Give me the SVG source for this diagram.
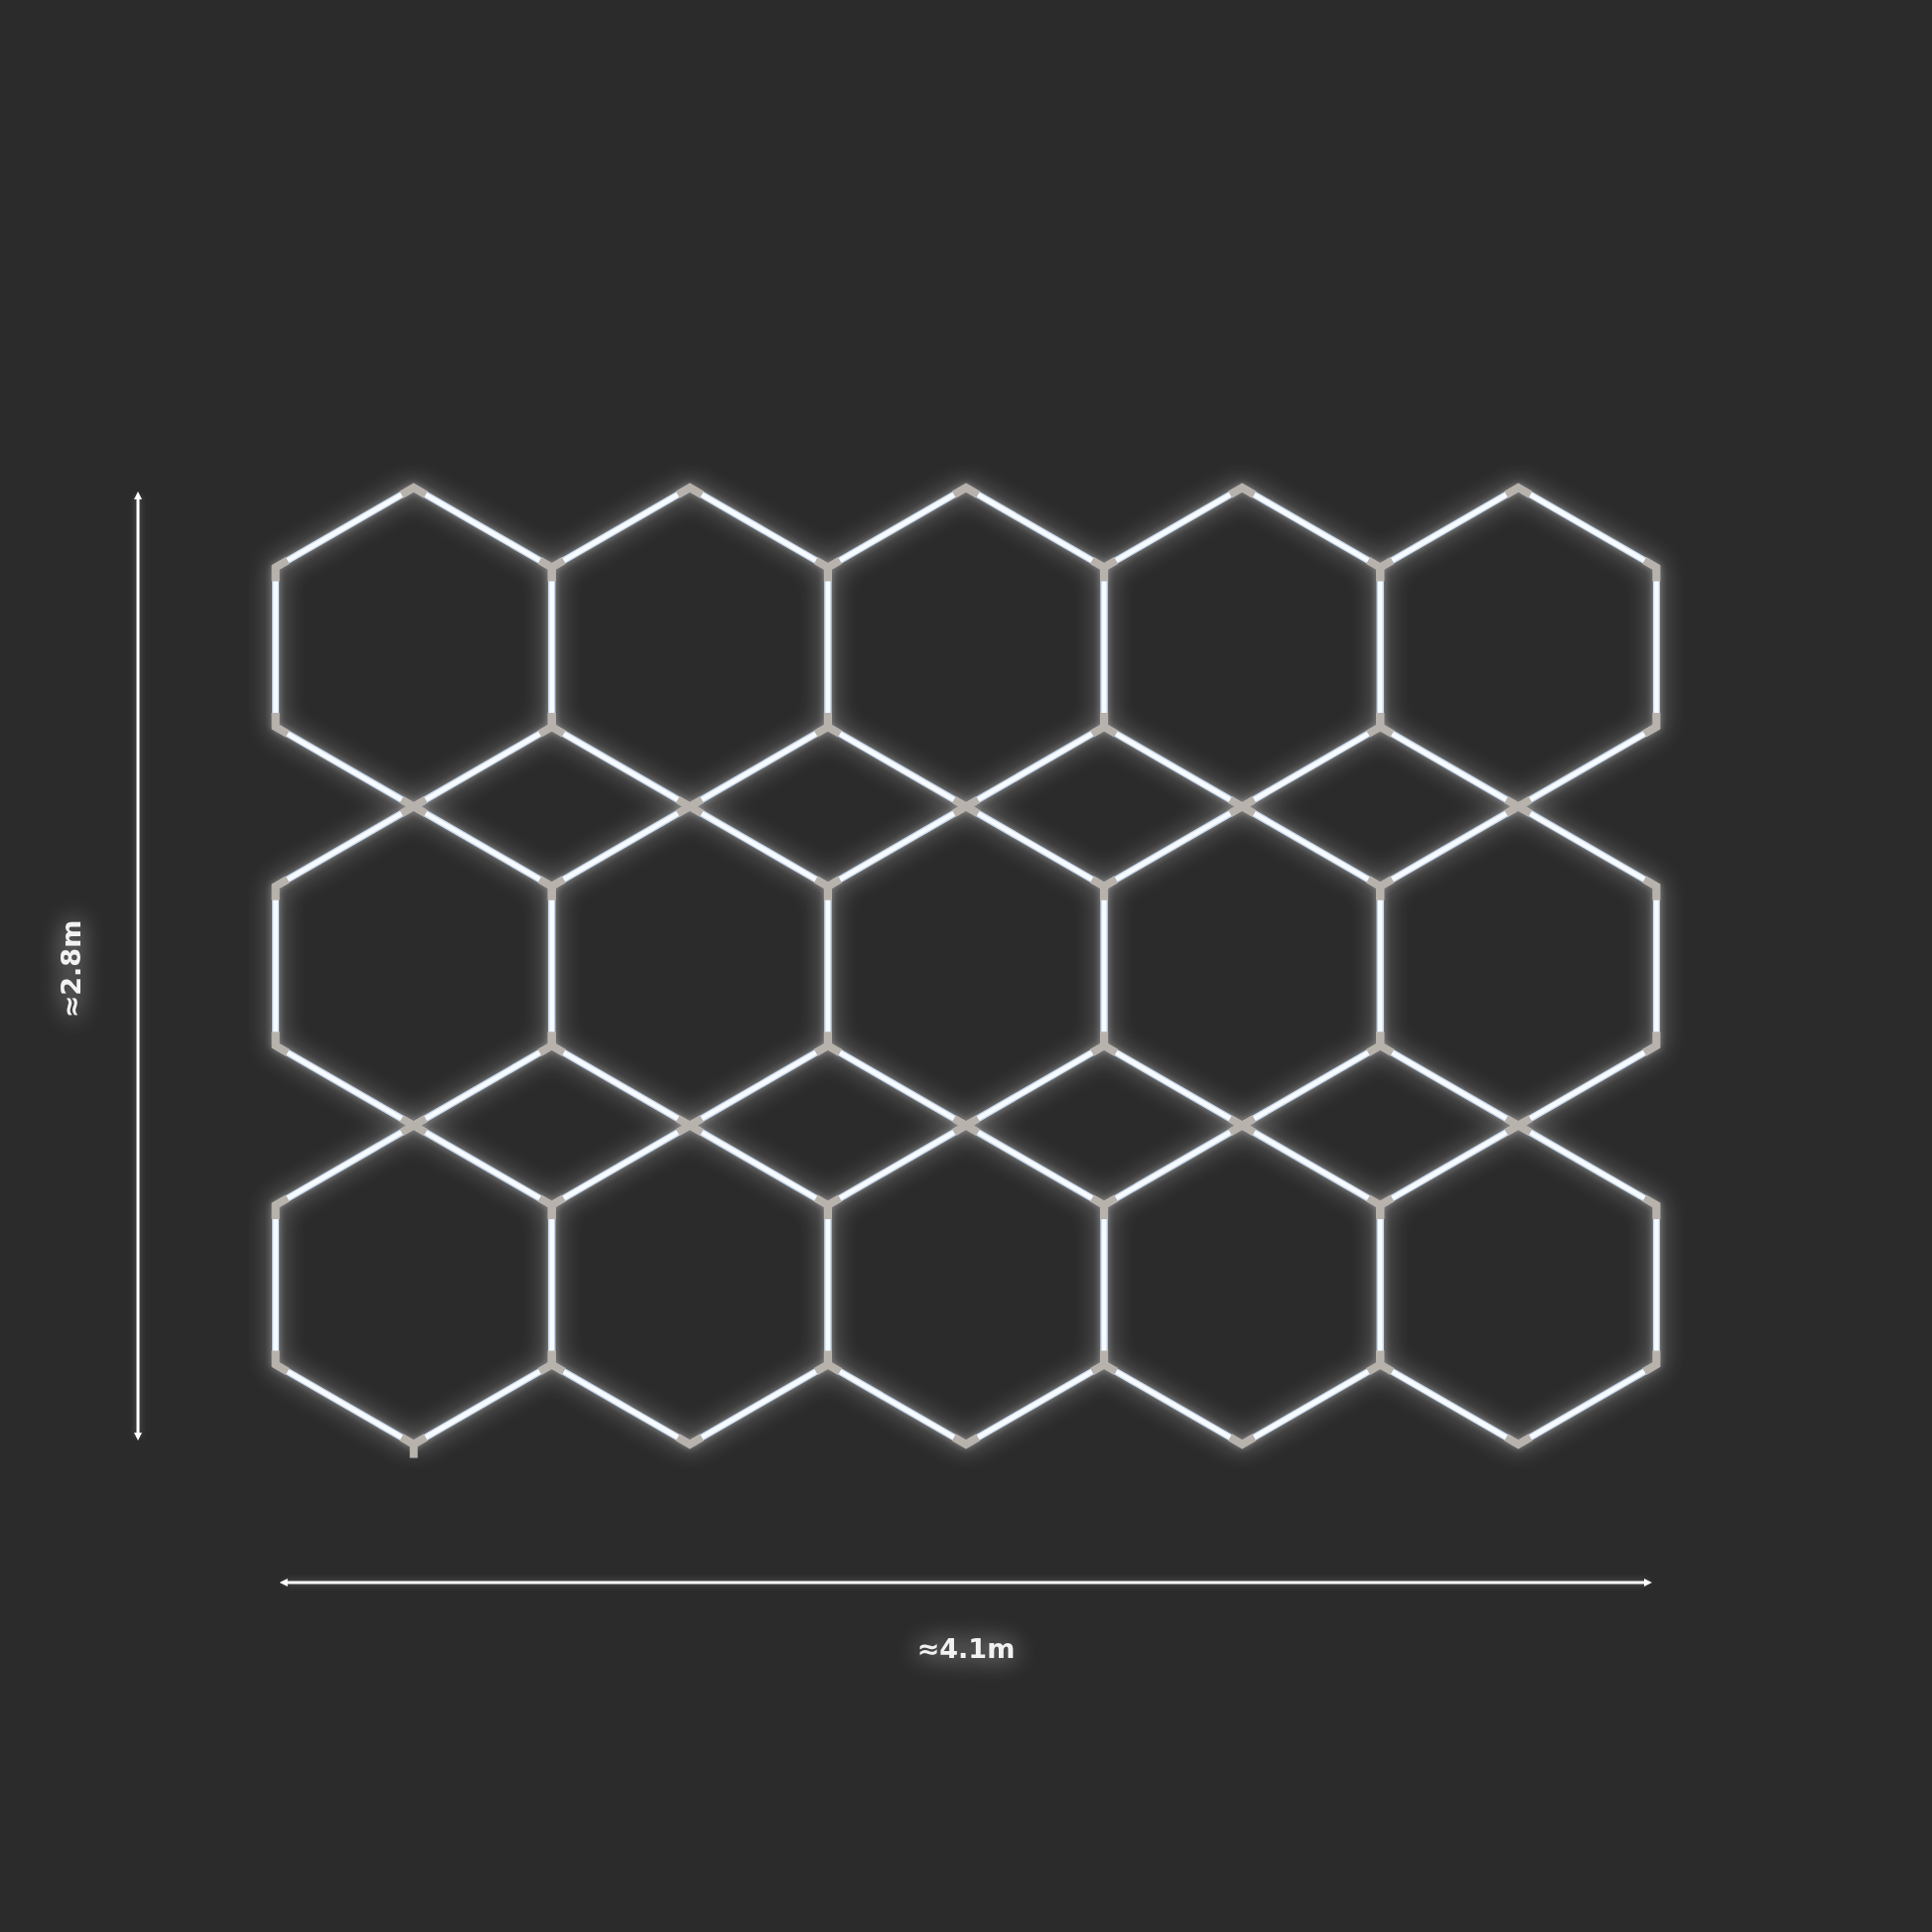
<svg xmlns="http://www.w3.org/2000/svg" xmlns:xlink="http://www.w3.org/1999/xlink" width="1946" height="1946" viewBox="0 0 1946 1946">
<style>
.tube-edge{fill:none;stroke:#c8dbf0;stroke-width:7;stroke-linejoin:miter}
.tube-core{fill:none;stroke:#f8fbff;stroke-width:4.5;stroke-linejoin:miter}
.conn{fill:none;stroke:#b8b2ad;stroke-width:8;stroke-linejoin:miter;stroke-miterlimit:4;stroke-linecap:butt}
.dim{stroke:#ffffff;stroke-width:3;fill:none}
.lbl{font-family:"DejaVu Sans","Liberation Sans",sans-serif;font-weight:bold;font-size:27px;fill:#f2f2f2;text-anchor:middle}
</style>
<defs>
<path id="hexshape" d="M0,-160.6 L139.085,-80.3 L139.085,80.3 L0,160.6 L-139.085,80.3 L-139.085,-80.3 Z"/>
<g id="hexunit">
<use href="#hexshape" class="tube-edge"/>
<use href="#hexshape" class="tube-core"/>
<path class="conn" d="M-12.12,-153.6 L0,-160.6 L12.12,-153.6 M126.965,-87.3 L139.085,-80.3 L139.085,-66.3 M139.085,66.3 L139.085,80.3 L126.965,87.3 M12.12,153.6 L0,160.6 L-12.12,153.6 M-126.965,87.3 L-139.085,80.3 L-139.085,66.3 M-139.085,-66.3 L-139.085,-80.3 L-126.965,-87.3"/>
</g>
<filter id="glow" x="0" y="0" width="1946" height="1946" filterUnits="userSpaceOnUse"><feGaussianBlur stdDeviation="12"/></filter>
<filter id="glowS" x="0" y="0" width="1946" height="1946" filterUnits="userSpaceOnUse"><feGaussianBlur stdDeviation="3.5"/></filter>
<marker id="arr" viewBox="0 0 10 10" refX="5" refY="5" markerWidth="8" markerHeight="8" markerUnits="userSpaceOnUse" orient="auto-start-reverse"><path d="M0,0 L10,5 L0,10 Z" fill="#ffffff"/></marker>
</defs>
<rect x="0" y="0" width="1946" height="1946" fill="#2b2b2b"/>

<g id="glow-layer" fill="none" stroke="#ffffff">
<g filter="url(#glow)" stroke-width="12" opacity="0.36">
<use href="#hexshape" x="416.66" y="651.8"/><use href="#hexshape" x="694.83" y="651.8"/><use href="#hexshape" x="973" y="651.8"/><use href="#hexshape" x="1251.17" y="651.8"/><use href="#hexshape" x="1529.34" y="651.8"/>
<use href="#hexshape" x="416.66" y="973"/><use href="#hexshape" x="694.83" y="973"/><use href="#hexshape" x="973" y="973"/><use href="#hexshape" x="1251.17" y="973"/><use href="#hexshape" x="1529.34" y="973"/>
<use href="#hexshape" x="416.66" y="1294.2"/><use href="#hexshape" x="694.83" y="1294.2"/><use href="#hexshape" x="973" y="1294.2"/><use href="#hexshape" x="1251.17" y="1294.2"/><use href="#hexshape" x="1529.34" y="1294.2"/>
</g>
<g filter="url(#glowS)" stroke-width="8" opacity="0.35">
<use href="#hexshape" x="416.66" y="651.8"/><use href="#hexshape" x="694.83" y="651.8"/><use href="#hexshape" x="973" y="651.8"/><use href="#hexshape" x="1251.17" y="651.8"/><use href="#hexshape" x="1529.34" y="651.8"/>
<use href="#hexshape" x="416.66" y="973"/><use href="#hexshape" x="694.83" y="973"/><use href="#hexshape" x="973" y="973"/><use href="#hexshape" x="1251.17" y="973"/><use href="#hexshape" x="1529.34" y="973"/>
<use href="#hexshape" x="416.66" y="1294.2"/><use href="#hexshape" x="694.83" y="1294.2"/><use href="#hexshape" x="973" y="1294.2"/><use href="#hexshape" x="1251.17" y="1294.2"/><use href="#hexshape" x="1529.34" y="1294.2"/>
</g>
</g>

<g id="hex-r1c1"><use href="#hexunit" x="416.66" y="651.8"/></g>
<g id="hex-r1c2"><use href="#hexunit" x="694.83" y="651.8"/></g>
<g id="hex-r1c3"><use href="#hexunit" x="973" y="651.8"/></g>
<g id="hex-r1c4"><use href="#hexunit" x="1251.17" y="651.8"/></g>
<g id="hex-r1c5"><use href="#hexunit" x="1529.34" y="651.8"/></g>
<g id="hex-r2c1"><use href="#hexunit" x="416.66" y="973"/></g>
<g id="hex-r2c2"><use href="#hexunit" x="694.83" y="973"/></g>
<g id="hex-r2c3"><use href="#hexunit" x="973" y="973"/></g>
<g id="hex-r2c4"><use href="#hexunit" x="1251.17" y="973"/></g>
<g id="hex-r2c5"><use href="#hexunit" x="1529.34" y="973"/></g>
<g id="hex-r3c1"><use href="#hexunit" x="416.66" y="1294.2"/></g>
<g id="hex-r3c2"><use href="#hexunit" x="694.83" y="1294.2"/></g>
<g id="hex-r3c3"><use href="#hexunit" x="973" y="1294.2"/></g>
<g id="hex-r3c4"><use href="#hexunit" x="1251.17" y="1294.2"/></g>
<g id="hex-r3c5"><use href="#hexunit" x="1529.34" y="1294.2"/></g>

<g id="power-feed"><rect x="412.7" y="1455" width="8" height="13.5" fill="#b8b2ad"/></g>

<g id="dimensions">
<g filter="url(#glowS)" opacity="0.3">
<line class="dim" x1="139" y1="499" x2="139" y2="1447" stroke-width="6"/>
<line class="dim" x1="285.7" y1="1594" x2="1660" y2="1594" stroke-width="6"/>
</g>
<line id="dim-height" class="dim" x1="139" y1="499" x2="139" y2="1447" marker-start="url(#arr)" marker-end="url(#arr)"/>
<line id="dim-width" class="dim" x1="285.7" y1="1594" x2="1660" y2="1594" marker-start="url(#arr)" marker-end="url(#arr)"/>
</g>

<g id="labels">
<g filter="url(#glow)" opacity="0.35">
<text class="lbl" transform="translate(81,976) rotate(-90)" fill="#ffffff" stroke="#ffffff" stroke-width="4">≈2.8m</text>
<text class="lbl" x="973" y="1670" fill="#ffffff" stroke="#ffffff" stroke-width="4">≈4.1m</text>
</g>
<text id="label-height" class="lbl" transform="translate(81,976) rotate(-90)">≈2.8m</text>
<text id="label-width" class="lbl" x="973" y="1670">≈4.1m</text>
</g>
</svg>
